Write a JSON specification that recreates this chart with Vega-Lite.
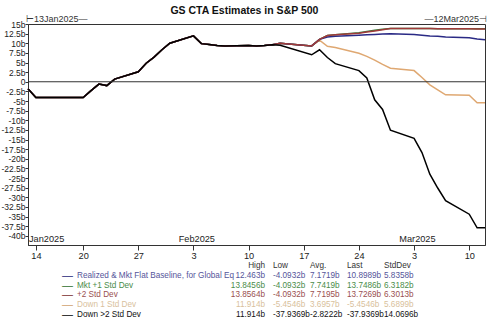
{
  "$schema": "https://vega.github.io/schema/vega-lite/v6.json",
  "padding": {"left": 0, "top": 6, "right": 5, "bottom": 2},
  "background": "white",
  "title": {"text": "GS CTA Estimates in S&P 500", "font": "Liberation Sans", "fontSize": 10.5, "fontWeight": "bold", "color": "#111", "anchor": "middle", "offset": -2},
  "config": {
    "font": "Liberation Sans",
    "axis": {"labelFont": "Liberation Sans", "labelFontSize": 9.2, "labelColor": "#222", "domainColor": "#333", "tickColor": "#333", "grid": false, "title": null},
    "axisY": {"labelFontSize": 8.5},
    "text": {"font": "Liberation Sans", "fontSize": 8.2}
  },
  "datasets": {
    "series": [
      {"date": "2025-01-13", "A": -1.8, "B": -1.8, "C": -1.8, "D": -1.8, "E": -1.8},
      {"date": "2025-01-14", "A": -4.0932, "B": -4.0932, "C": -4.0932, "D": -4.0932, "E": -4.0932},
      {"date": "2025-01-15", "A": -4.0932, "B": -4.0932, "C": -4.0932, "D": -4.0932, "E": -4.0932},
      {"date": "2025-01-16", "A": -4.0932, "B": -4.0932, "C": -4.0932, "D": -4.0932, "E": -4.0932},
      {"date": "2025-01-17", "A": -4.0932, "B": -4.0932, "C": -4.0932, "D": -4.0932, "E": -4.0932},
      {"date": "2025-01-20", "A": -4.0932, "B": -4.0932, "C": -4.0932, "D": -4.0932, "E": -4.0932},
      {"date": "2025-01-21", "A": -2.3, "B": -2.3, "C": -2.3, "D": -2.3, "E": -2.3},
      {"date": "2025-01-22", "A": -0.6, "B": -0.6, "C": -0.6, "D": -0.6, "E": -0.6},
      {"date": "2025-01-23", "A": -1.0, "B": -1.0, "C": -1.0, "D": -1.0, "E": -1.0},
      {"date": "2025-01-24", "A": 0.7, "B": 0.7, "C": 0.7, "D": 0.7, "E": 0.7},
      {"date": "2025-01-27", "A": 2.6, "B": 2.6, "C": 2.6, "D": 2.6, "E": 2.6},
      {"date": "2025-01-28", "A": 4.8, "B": 4.8, "C": 4.8, "D": 4.8, "E": 4.8},
      {"date": "2025-01-29", "A": 6.4, "B": 6.4, "C": 6.4, "D": 6.4, "E": 6.4},
      {"date": "2025-01-30", "A": 8.3, "B": 8.3, "C": 8.3, "D": 8.3, "E": 8.3},
      {"date": "2025-01-31", "A": 10.0, "B": 10.0, "C": 10.0, "D": 10.0, "E": 10.0},
      {"date": "2025-02-03", "A": 11.914, "B": 11.914, "C": 11.914, "D": 11.914, "E": 11.914},
      {"date": "2025-02-04", "A": 9.9, "B": 9.9, "C": 9.9, "D": 9.9, "E": 9.9},
      {"date": "2025-02-05", "A": 9.7, "B": 9.7, "C": 9.7, "D": 9.7, "E": 9.7},
      {"date": "2025-02-06", "A": 9.4, "B": 9.4, "C": 9.4, "D": 9.4, "E": 9.4},
      {"date": "2025-02-07", "A": 9.3, "B": 9.3, "C": 9.3, "D": 9.3, "E": 9.3},
      {"date": "2025-02-10", "A": 9.4, "B": 9.4, "C": 9.4, "D": 9.4, "E": 9.4},
      {"date": "2025-02-11", "A": 9.3, "B": 9.3, "C": 9.3, "D": 9.3, "E": 9.3},
      {"date": "2025-02-12", "A": 9.4, "B": 9.4, "C": 9.4, "D": 9.4, "E": 9.4},
      {"date": "2025-02-13", "A": 9.6, "B": 9.6, "C": 9.6, "D": 9.6, "E": 9.6},
      {"date": "2025-02-14", "A": 10.0, "B": 10.0, "C": 10.0, "D": 10.0, "E": 9.5},
      {"date": "2025-02-18", "A": 9.3, "B": 9.3, "C": 9.3, "D": 9.3, "E": 7.0},
      {"date": "2025-02-19", "A": 11.0, "B": 11.0, "C": 11.0, "D": 10.8, "E": 8.3},
      {"date": "2025-02-20", "A": 11.6, "B": 12.0, "C": 12.0, "D": 9.2, "E": 6.3},
      {"date": "2025-02-21", "A": 11.8, "B": 12.2, "C": 12.2, "D": 8.9, "E": 4.7},
      {"date": "2025-02-24", "A": 12.1, "B": 12.75, "C": 12.6, "D": 7.4, "E": 2.9},
      {"date": "2025-02-25", "A": 12.2, "B": 13.05, "C": 12.9, "D": 6.6, "E": 1.0},
      {"date": "2025-02-26", "A": 12.3, "B": 13.35, "C": 13.2, "D": 5.6, "E": -4.7},
      {"date": "2025-02-27", "A": 12.4, "B": 13.65, "C": 13.5, "D": 4.5, "E": -7.2},
      {"date": "2025-02-28", "A": 12.463, "B": 13.8456, "C": 13.8, "D": 3.5, "E": -12.6},
      {"date": "2025-03-03", "A": 12.3, "B": 13.84, "C": 13.8564, "D": 2.9, "E": -14.7},
      {"date": "2025-03-04", "A": 12.1, "B": 13.82, "C": 13.83, "D": 1.1, "E": -18.4},
      {"date": "2025-03-05", "A": 11.9, "B": 13.8, "C": 13.8, "D": -0.8, "E": -24.0},
      {"date": "2025-03-06", "A": 11.8, "B": 13.79, "C": 13.78, "D": -2.1, "E": -27.6},
      {"date": "2025-03-07", "A": 11.6, "B": 13.78, "C": 13.77, "D": -3.4, "E": -30.9},
      {"date": "2025-03-10", "A": 11.4, "B": 13.76, "C": 13.75, "D": -3.5, "E": -34.4},
      {"date": "2025-03-11", "A": 11.1, "B": 13.75, "C": 13.73, "D": -5.4546, "E": -37.9369},
      {"date": "2025-03-12", "A": 10.8989, "B": 13.7486, "C": 13.7269, "D": -5.4546, "E": -37.9369}
    ],
    "months": [
      {"date": "2025-01-13", "label": "Jan2025"},
      {"date": "2025-02-01", "label": "Feb2025"},
      {"date": "2025-03-01", "label": "Mar2025"}
    ],
    "range": [
      {"date": "2025-01-13", "label": "⊢13Jan2025—", "side": "start"},
      {"date": "2025-03-12", "label": "—12Mar2025⊣", "side": "end"}
    ],
    "stats": [
      {"row": "hdr", "label": "", "High": "High", "Low": "Low", "Avg": "Avg.", "Last": "Last", "StdDev": "StdDev"},
      {"row": "A", "label": "Realized & Mkt Flat Baseline, for Global Eq", "High": "12.463b", "Low": "-4.0932b", "Avg": "7.1719b", "Last": "10.8989b", "StdDev": "5.8358b"},
      {"row": "B", "label": "Mkt +1 Std Dev", "High": "13.8456b", "Low": "-4.0932b", "Avg": "7.7419b", "Last": "13.7486b", "StdDev": "6.3182b"},
      {"row": "C", "label": "+2 Std Dev", "High": "13.8564b", "Low": "-4.0932b", "Avg": "7.7195b", "Last": "13.7269b", "StdDev": "6.3013b"},
      {"row": "D", "label": "Down 1 Std Dev", "High": "11.914b", "Low": "-5.4546b", "Avg": "3.6957b", "Last": "-5.4546b", "StdDev": "5.6899b"},
      {"row": "E", "label": "Down >2 Std Dev", "High": "11.914b", "Low": "-37.9369b", "Avg": "-2.8222b", "Last": "-37.9369b", "StdDev": "14.0696b"}
    ]
  },
  "vconcat": [
    {
      "width": 457,
      "height": 221,
      "view": {"stroke": "#333", "strokeWidth": 1},
      "layer": [
        {
          "data": {"name": "series"},
          "transform": [{"fold": ["D", "B", "A", "C", "E"], "as": ["key", "value"]}],
          "mark": {"type": "line", "strokeWidth": 1.5},
          "encoding": {
            "x": {
              "field": "date", "type": "temporal",
              "scale": {"type": "utc", "domain": [{"year": 2025, "month": 1, "date": 13, "utc": true}, {"year": 2025, "month": 3, "date": 12, "utc": true}], "nice": false},
              "axis": {
                "values": [
                  {"year": 2025, "month": 1, "date": 14, "utc": true},
                  {"year": 2025, "month": 1, "date": 20, "utc": true},
                  {"year": 2025, "month": 1, "date": 27, "utc": true},
                  {"year": 2025, "month": 2, "date": 3, "utc": true},
                  {"year": 2025, "month": 2, "date": 10, "utc": true},
                  {"year": 2025, "month": 2, "date": 17, "utc": true},
                  {"year": 2025, "month": 2, "date": 24, "utc": true},
                  {"year": 2025, "month": 3, "date": 3, "utc": true},
                  {"year": 2025, "month": 3, "date": 10, "utc": true}
                ],
                "format": "%-d", "tickSize": 5, "labelPadding": 1, "labelFlush": false, "labelOverlap": false
              }
            },
            "y": {
              "field": "value", "type": "quantitative",
              "scale": {"domain": [-42.4, 15], "nice": false, "zero": false},
              "axis": {
                "values": [15, 12.5, 10, 7.5, 5, 2.5, 0, -2.5, -5, -7.5, -10, -12.5, -15, -17.5, -20, -22.5, -25, -27.5, -30, -32.5, -35, -37.5, -40],
                "labelExpr": "datum.value == 0 ? '0' : datum.value + 'b'",
                "tickSize": 3, "labelPadding": 0, "labelFlush": false, "labelOverlap": false
              }
            },
            "color": {
              "field": "key", "type": "nominal",
              "scale": {"domain": ["A", "B", "C", "D", "E"], "range": ["#2a2a85", "#3a7d3a", "#a03a3a", "#dfa872", "#000000"]},
              "legend": null
            }
          }
        },
        {
          "data": {"values": [{"v": 0}]},
          "mark": {"type": "rule", "color": "#333", "strokeWidth": 1},
          "encoding": {
            "y": {
              "field": "v", "type": "quantitative",
              "axis": {
                "values": [15, 12.5, 10, 7.5, 5, 2.5, 0, -2.5, -5, -7.5, -10, -12.5, -15, -17.5, -20, -22.5, -25, -27.5, -30, -32.5, -35, -37.5, -40],
                "labelExpr": "datum.value == 0 ? '0' : datum.value + 'b'",
                "tickSize": 3, "labelPadding": 0, "labelFlush": false, "labelOverlap": false
              }
            }
          }
        },
        {
          "data": {"name": "months"},
          "mark": {"type": "text", "align": "left", "baseline": "bottom", "dx": 1, "dy": -1, "fontSize": 9.2, "color": "#222"},
          "encoding": {
            "x": {"field": "date", "type": "temporal"},
            "y": {
              "datum": -42.4, "type": "quantitative",
              "axis": {
                "values": [15, 12.5, 10, 7.5, 5, 2.5, 0, -2.5, -5, -7.5, -10, -12.5, -15, -17.5, -20, -22.5, -25, -27.5, -30, -32.5, -35, -37.5, -40],
                "labelExpr": "datum.value == 0 ? '0' : datum.value + 'b'",
                "tickSize": 3, "labelPadding": 0, "labelFlush": false, "labelOverlap": false
              }
            },
            "text": {"field": "label"}
          }
        },
        {
          "data": {"name": "range"},
          "transform": [{"filter": "datum.side == 'start'"}],
          "mark": {"type": "text", "align": "left", "baseline": "bottom", "dx": -2, "dy": 0, "fontSize": 9, "color": "#333"},
          "encoding": {
            "x": {"field": "date", "type": "temporal"},
            "y": {
              "datum": 15, "type": "quantitative",
              "axis": {
                "values": [15, 12.5, 10, 7.5, 5, 2.5, 0, -2.5, -5, -7.5, -10, -12.5, -15, -17.5, -20, -22.5, -25, -27.5, -30, -32.5, -35, -37.5, -40],
                "labelExpr": "datum.value == 0 ? '0' : datum.value + 'b'",
                "tickSize": 3, "labelPadding": 0, "labelFlush": false, "labelOverlap": false
              }
            },
            "text": {"field": "label"}
          }
        },
        {
          "data": {"name": "range"},
          "transform": [{"filter": "datum.side == 'end'"}],
          "mark": {"type": "text", "align": "right", "baseline": "bottom", "dx": 2, "dy": 0, "fontSize": 9, "color": "#333"},
          "encoding": {
            "x": {"field": "date", "type": "temporal"},
            "y": {
              "datum": 15, "type": "quantitative",
              "axis": {
                "values": [15, 12.5, 10, 7.5, 5, 2.5, 0, -2.5, -5, -7.5, -10, -12.5, -15, -17.5, -20, -22.5, -25, -27.5, -30, -32.5, -35, -37.5, -40],
                "labelExpr": "datum.value == 0 ? '0' : datum.value + 'b'",
                "tickSize": 3, "labelPadding": 0, "labelFlush": false, "labelOverlap": false
              }
            },
            "text": {"field": "label"}
          }
        }
      ]
    },
    {
      "width": 400,
      "height": 59,
      "view": {"stroke": null},
      "data": {"name": "stats"},
      "resolve": {"scale": {"color": "independent"}},
      "layer": [
        {
          "transform": [{"filter": "datum.row != 'hdr'"}],
          "mark": {"type": "text", "align": "left", "baseline": "middle", "dx": -174, "fontSize": 11},
          "encoding": {
            "x": {"datum": "High", "type": "nominal", "scale": {"type": "point", "domain": ["High", "Low", "Avg", "Last", "StdDev"], "range": [208, 356], "padding": 0}, "axis": null},
            "y": {"field": "row", "type": "nominal", "scale": {"type": "point", "domain": ["hdr", "A", "B", "C", "D", "E"], "padding": 0.5}, "axis": null},
            "text": {"value": "—"},
            "color": {"field": "row", "type": "nominal", "scale": {"domain": ["hdr", "A", "B", "C", "D", "E"], "range": ["#333333", "#1f1f7a", "#2e6e2e", "#7a2e2e", "#d0a070", "#000000"]}, "legend": null}
          }
        },
        {
          "mark": {"type": "text", "align": "left", "baseline": "middle", "dx": -159},
          "encoding": {
            "x": {"datum": "High", "type": "nominal"},
            "y": {"field": "row", "type": "nominal"},
            "text": {"field": "label"},
            "color": {"field": "row", "type": "nominal", "scale": {"domain": ["hdr", "A", "B", "C", "D", "E"], "range": ["#333333", "#55559a", "#4a8c4a", "#9a4f4f", "#d9bf9c", "#111111"]}, "legend": null}
          }
        },
        {
          "mark": {"type": "text", "align": "right", "baseline": "middle", "dx": 29},
          "encoding": {
            "x": {"datum": "High", "type": "nominal"},
            "y": {"field": "row", "type": "nominal"},
            "text": {"field": "High"},
            "color": {"field": "row", "type": "nominal", "scale": {"domain": ["hdr", "A", "B", "C", "D", "E"], "range": ["#333333", "#55559a", "#4a8c4a", "#9a4f4f", "#d9bf9c", "#111111"]}, "legend": null}
          }
        },
        {
          "transform": [{"fold": ["Low", "Avg", "Last", "StdDev"], "as": ["col", "val"]}],
          "mark": {"type": "text", "align": "left", "baseline": "middle"},
          "encoding": {
            "x": {"field": "col", "type": "nominal"},
            "y": {"field": "row", "type": "nominal"},
            "text": {"field": "val"},
            "color": {"field": "row", "type": "nominal", "scale": {"domain": ["hdr", "A", "B", "C", "D", "E"], "range": ["#333333", "#55559a", "#4a8c4a", "#9a4f4f", "#d9bf9c", "#111111"]}, "legend": null}
          }
        }
      ]
    }
  ],
  "spacing": -1,
  "resolve": {"scale": {"color": "independent"}}
}
